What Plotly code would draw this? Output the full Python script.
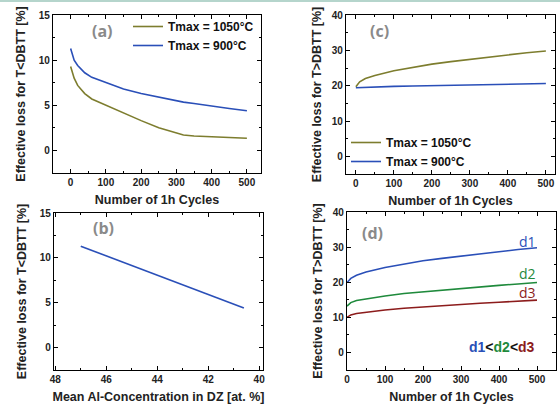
import plotly.graph_objects as go

# ---- data ----
cycles_a = [0, 5, 10, 20, 40, 60, 100, 150, 200, 250, 300, 320, 350, 400, 450, 500]
loss_low_1050 = [9.3, 8.5, 8.0, 7.2, 6.3, 5.7, 5.0, 4.1, 3.3, 2.5, 1.9, 1.7, 1.6, 1.5, 1.45, 1.35]
loss_low_900 = [11.3, 10.5, 10.0, 9.4, 8.6, 8.1, 7.5, 6.8, 6.3, 5.9, 5.5, 5.35, 5.2, 4.9, 4.65, 4.4]

al_conc = [47.0, 40.6]
loss_al = [11.3, 4.4]

cycles_c = [0, 10, 25, 50, 100, 150, 200, 250, 300, 350, 400, 450, 500]
loss_high_1050 = [19.7, 21.1, 22.0, 22.9, 24.2, 25.2, 26.1, 26.8, 27.5, 28.1, 28.7, 29.3, 29.8]
loss_high_900 = [19.4, 19.45, 19.5, 19.6, 19.8, 19.9, 20.0, 20.1, 20.2, 20.3, 20.4, 20.5, 20.6]

loss_d1 = [19.9, 21.1, 22.0, 22.9, 24.2, 25.2, 26.1, 26.8, 27.5, 28.1, 28.7, 29.3, 29.8]
loss_d2 = [13.2, 14.2, 14.8, 15.3, 16.1, 16.8, 17.3, 17.8, 18.3, 18.7, 19.1, 19.5, 19.9]
loss_d3 = [10.0, 10.7, 11.1, 11.5, 12.1, 12.6, 13.0, 13.4, 13.7, 14.0, 14.3, 14.6, 14.9]

OLIVE = "#7d7d2e"
BLUE = "#2a4fb8"
GREEN = "#1f8a3c"
RED = "#8c1c1c"
FONT = "Liberation Sans"

W, H = 560, 405

def dom_x(a, b):
    return [a / W, b / W]

def dom_y(top, bottom):
    return [(H - bottom) / H, (H - top) / H]

fig = go.Figure()

# (a)
fig.add_trace(go.Scatter(x=cycles_a, y=loss_low_1050, mode="lines", name="Tmax = 1050°C",
                         line=dict(color=OLIVE, width=1.6), xaxis="x", yaxis="y", legend="legend"))
fig.add_trace(go.Scatter(x=cycles_a, y=loss_low_900, mode="lines", name="Tmax = 900°C",
                         line=dict(color=BLUE, width=1.6), xaxis="x", yaxis="y", legend="legend"))
# (c)
fig.add_trace(go.Scatter(x=cycles_c, y=loss_high_1050, mode="lines", name="Tmax = 1050°C",
                         line=dict(color=OLIVE, width=1.6), xaxis="x2", yaxis="y2", legend="legend2"))
fig.add_trace(go.Scatter(x=cycles_c, y=loss_high_900, mode="lines", name="Tmax = 900°C",
                         line=dict(color=BLUE, width=1.6), xaxis="x2", yaxis="y2", legend="legend2"))
# (b)
fig.add_trace(go.Scatter(x=al_conc, y=loss_al, mode="lines", showlegend=False,
                         line=dict(color=BLUE, width=1.6), xaxis="x3", yaxis="y3"))
# (d)
for vals, col in [(loss_d1, BLUE), (loss_d2, GREEN), (loss_d3, RED)]:
    fig.add_trace(go.Scatter(x=cycles_c, y=vals, mode="lines", showlegend=False,
                             line=dict(color=col, width=1.6), xaxis="x4", yaxis="y4"))

tickfont = dict(family=FONT, size=10, color="#222", weight="bold")
titlefont = dict(family=FONT, size=12.5, color="#222", weight="bold")

def ax(domain, rng, dtick, minor, title, anchor, standoff):
    return dict(domain=domain, range=rng, dtick=dtick, anchor=anchor, automargin=False,
                showline=True, linecolor="black", linewidth=1.3, mirror="ticks",
                ticks="inside", ticklen=4, tickwidth=1, tickcolor="black",
                minor=dict(dtick=minor, ticks="inside", ticklen=2, tickcolor="black"),
                showgrid=False, zeroline=False, tickfont=tickfont,
                title=dict(text=title, font=titlefont, standoff=standoff))

ylab_low = "Effective loss for T<DBTT [%]"
ylab_high = "Effective loss for T>DBTT [%]"
xlab = "Number of 1h Cycles"

legfont = dict(family=FONT, size=12, color="#111", weight="bold")

fig.update_layout(
    width=W, height=H, margin=dict(l=0, r=0, t=0, b=0),
    paper_bgcolor="white", plot_bgcolor="white",
    xaxis=ax(dom_x(53, 261), [-50, 540], 100, 50, xlab, "y", 8),
    yaxis=ax(dom_y(15, 173), [-2.5, 15], 5, 2.5, ylab_low, "x", 10),
    xaxis2=ax(dom_x(346, 555), [-26, 524], 100, 50, xlab, "y2", 8),
    yaxis2=ax(dom_y(15, 174), [-5, 40], 10, 5, ylab_high, "x2", 7),
    xaxis3=ax(dom_x(54, 263), [48.05, 39.85], 2, 1, "Mean Al-Concentration in DZ [at. %]", "y3", 8),
    yaxis3=ax(dom_y(213, 370), [-2.5, 15], 5, 2.5, ylab_low, "x3", 10),
    xaxis4=ax(dom_x(347, 556), [0, 550], 100, 50, xlab, "y4", 8),
    yaxis4=ax(dom_y(212, 370), [-5, 40], 10, 5, ylab_high, "x4", 7),
    legend=dict(x=128 / W, y=1 - 12 / H, xanchor="left", yanchor="top",
                bgcolor="rgba(0,0,0,0)", font=legfont, itemwidth=30, tracegroupgap=0),
    legend2=dict(x=346 / W, y=1 - 128 / H, xanchor="left", yanchor="top",
                 bgcolor="rgba(0,0,0,0)", font=legfont, itemwidth=30, tracegroupgap=0),
)

def note(txt, x, y, font):
    fig.add_annotation(text=txt, x=x / W, y=1 - y / H, xref="paper", yref="paper",
                       xanchor="center", yanchor="middle", showarrow=False, font=font)

grey = dict(family="Open Sans", size=16, color="#8a8a8a", weight="bold")
for txt, x, y in [("(a)", 102, 31), ("(c)", 379, 31), ("(b)", 103, 228), ("(d)", 372, 233)]:
    note(txt, x, y, grey)

for txt, col, y in [("d1", BLUE, 241), ("d2", GREEN, 273), ("d3", RED, 292)]:
    note(txt, 527, y, dict(family="Open Sans", size=14, color=col))

note(f"<span style='color:{BLUE}'>d1</span><span style='color:#111'>&lt;</span>"
     f"<span style='color:{GREEN}'>d2</span><span style='color:#111'>&lt;</span>"
     f"<span style='color:{RED}'>d3</span>",
     502, 347, dict(family=FONT, size=14, weight="bold"))

# thin border line at the top of the figure
fig.add_shape(type="line", xref="paper", yref="paper", x0=0, x1=1, y0=1 - 1 / H, y1=1 - 1 / H,
              line=dict(color="#b5d5cc", width=2))

# page body has a default margin; drop it so the figure sits at the window corner
fig.write_html("out.html", config={"displayModeBar": False},
               post_script="document.body.style.margin='0';")
